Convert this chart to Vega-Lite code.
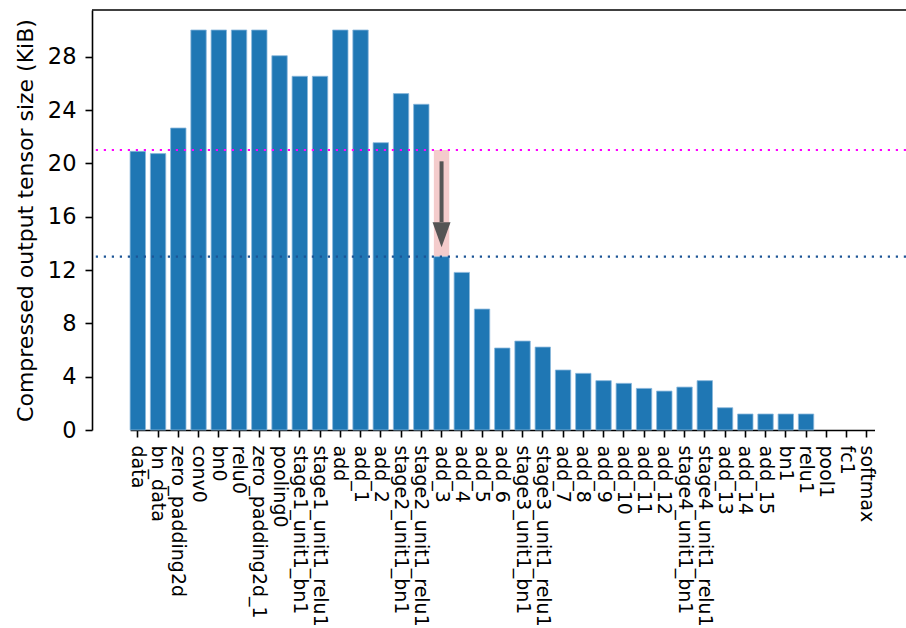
{
  "$schema": "https://vega.github.io/schema/vega-lite/v6.json",
  "autosize": {"type": "none"},
  "padding": {"left": 92, "top": 10, "right": 0, "bottom": 198},
  "width": 814,
  "height": 420,
  "background": "white",
  "config": {
    "view": {"stroke": null},
    "font": "DejaVu Sans",
    "axis": {
      "labelFont": "DejaVu Sans",
      "titleFont": "DejaVu Sans",
      "labelColor": "black",
      "titleColor": "black",
      "domainColor": "black",
      "tickColor": "black",
      "domainWidth": 1.6,
      "tickWidth": 1.6,
      "tickSize": 7,
      "grid": false
    }
  },
  "datasets": {
    "layers": [
      {"name": "data", "size": 20.9},
      {"name": "bn_data", "size": 20.73},
      {"name": "zero_padding2d", "size": 22.65},
      {"name": "conv0", "size": 30.0},
      {"name": "bn0", "size": 30.0},
      {"name": "relu0", "size": 30.0},
      {"name": "zero_padding2d_1", "size": 30.0},
      {"name": "pooling0", "size": 28.07},
      {"name": "stage1_unit1_bn1", "size": 26.53},
      {"name": "stage1_unit1_relu1", "size": 26.53},
      {"name": "add", "size": 30.0},
      {"name": "add_1", "size": 30.0},
      {"name": "add_2", "size": 21.55},
      {"name": "stage2_unit1_bn1", "size": 25.23},
      {"name": "stage2_unit1_relu1", "size": 24.43},
      {"name": "add_3", "size": 13.0},
      {"name": "add_4", "size": 11.82},
      {"name": "add_5", "size": 9.07},
      {"name": "add_6", "size": 6.15},
      {"name": "stage3_unit1_bn1", "size": 6.67},
      {"name": "stage3_unit1_relu1", "size": 6.22},
      {"name": "add_7", "size": 4.5},
      {"name": "add_8", "size": 4.25},
      {"name": "add_9", "size": 3.7},
      {"name": "add_10", "size": 3.5},
      {"name": "add_11", "size": 3.12},
      {"name": "add_12", "size": 2.92},
      {"name": "stage4_unit1_bn1", "size": 3.22},
      {"name": "stage4_unit1_relu1", "size": 3.7},
      {"name": "add_13", "size": 1.67},
      {"name": "add_14", "size": 1.2},
      {"name": "add_15", "size": 1.2},
      {"name": "bn1", "size": 1.2},
      {"name": "relu1", "size": 1.2},
      {"name": "pool1", "size": 0},
      {"name": "fc1", "size": 0},
      {"name": "softmax", "size": 0}
    ],
    "reduction": [
      {"name": "add_3", "before": 21.0, "after": 13.0, "shaft_top": 20.15, "shaft_end": 15.6, "head": 14.64}
    ]
  },
  "encoding": {
    "x": {
      "field": "name",
      "type": "nominal",
      "sort": null,
      "scale": {
        "domain": ["data", "bn_data", "zero_padding2d", "conv0", "bn0", "relu0", "zero_padding2d_1", "pooling0", "stage1_unit1_bn1", "stage1_unit1_relu1", "add", "add_1", "add_2", "stage2_unit1_bn1", "stage2_unit1_relu1", "add_3", "add_4", "add_5", "add_6", "stage3_unit1_bn1", "stage3_unit1_relu1", "add_7", "add_8", "add_9", "add_10", "add_11", "add_12", "stage4_unit1_bn1", "stage4_unit1_relu1", "add_13", "add_14", "add_15", "bn1", "relu1", "pool1", "fc1", "softmax"],
        "range": [38.1, 782.5],
        "paddingInner": 0.24,
        "paddingOuter": 0
      },
      "axis": {
        "title": null,
        "labelAngle": 90,
        "labelAlign": "left",
        "labelBaseline": "middle",
        "labelFontSize": 19,
        "labelPadding": 8,
        "labelOverlap": false,
        "labelLimit": 0
      }
    }
  },
  "layer": [
    {
      "data": {"name": "reduction"},
      "mark": {"type": "bar", "color": "#f4cccc"},
      "encoding": {
        "y": {"field": "before", "type": "quantitative"},
        "y2": {"field": "after"}
      }
    },
    {
      "data": {"name": "layers"},
      "mark": {"type": "bar", "color": "#1f77b4", "stroke": "#8ab8dc", "strokeWidth": 0.8},
      "encoding": {
        "y": {
          "field": "size",
          "type": "quantitative",
          "scale": {"domain": [0, 31.5], "nice": false, "zero": true},
          "axis": {
            "title": "Compressed output tensor size (KiB)",
            "titleFontSize": 22,
            "titleFontWeight": "normal",
            "titlePadding": 10,
            "labelFontSize": 22.5,
            "labelPadding": 9,
            "values": [0, 4, 8, 12, 16, 20, 24, 28]
          }
        },
        "strokeOpacity": {
          "condition": {"test": "datum.size <= 0", "value": 0},
          "value": 1
        }
      }
    },
    {
      "data": {"name": "reduction"},
      "mark": {"type": "rule", "color": "#ff00ff", "strokeWidth": 2.2, "strokeDash": [2.2, 5.8]},
      "encoding": {
        "x": null,
        "y": {"field": "before", "type": "quantitative"}
      }
    },
    {
      "data": {"name": "reduction"},
      "mark": {"type": "rule", "color": "#1c5596", "strokeWidth": 2.2, "strokeDash": [2.2, 5.8]},
      "encoding": {
        "x": null,
        "y": {"field": "after", "type": "quantitative"}
      }
    },
    {
      "data": {"name": "reduction"},
      "mark": {"type": "rule", "color": "#555555", "strokeWidth": 4},
      "encoding": {
        "y": {"field": "shaft_top", "type": "quantitative"},
        "y2": {"field": "shaft_end"}
      }
    },
    {
      "data": {"name": "reduction"},
      "mark": {
        "type": "point",
        "filled": true,
        "opacity": 1,
        "color": "#555555",
        "size": 625,
        "shape": "M -0.72 -1 L 0.72 -1 L 0 1 Z"
      },
      "encoding": {
        "y": {"field": "head", "type": "quantitative"}
      }
    },
    {
      "data": {"values": [{"frame": 31.5}]},
      "mark": {"type": "rule", "color": "black", "strokeWidth": 1.6},
      "encoding": {
        "x": null,
        "y": {"field": "frame", "type": "quantitative"}
      }
    }
  ]
}
